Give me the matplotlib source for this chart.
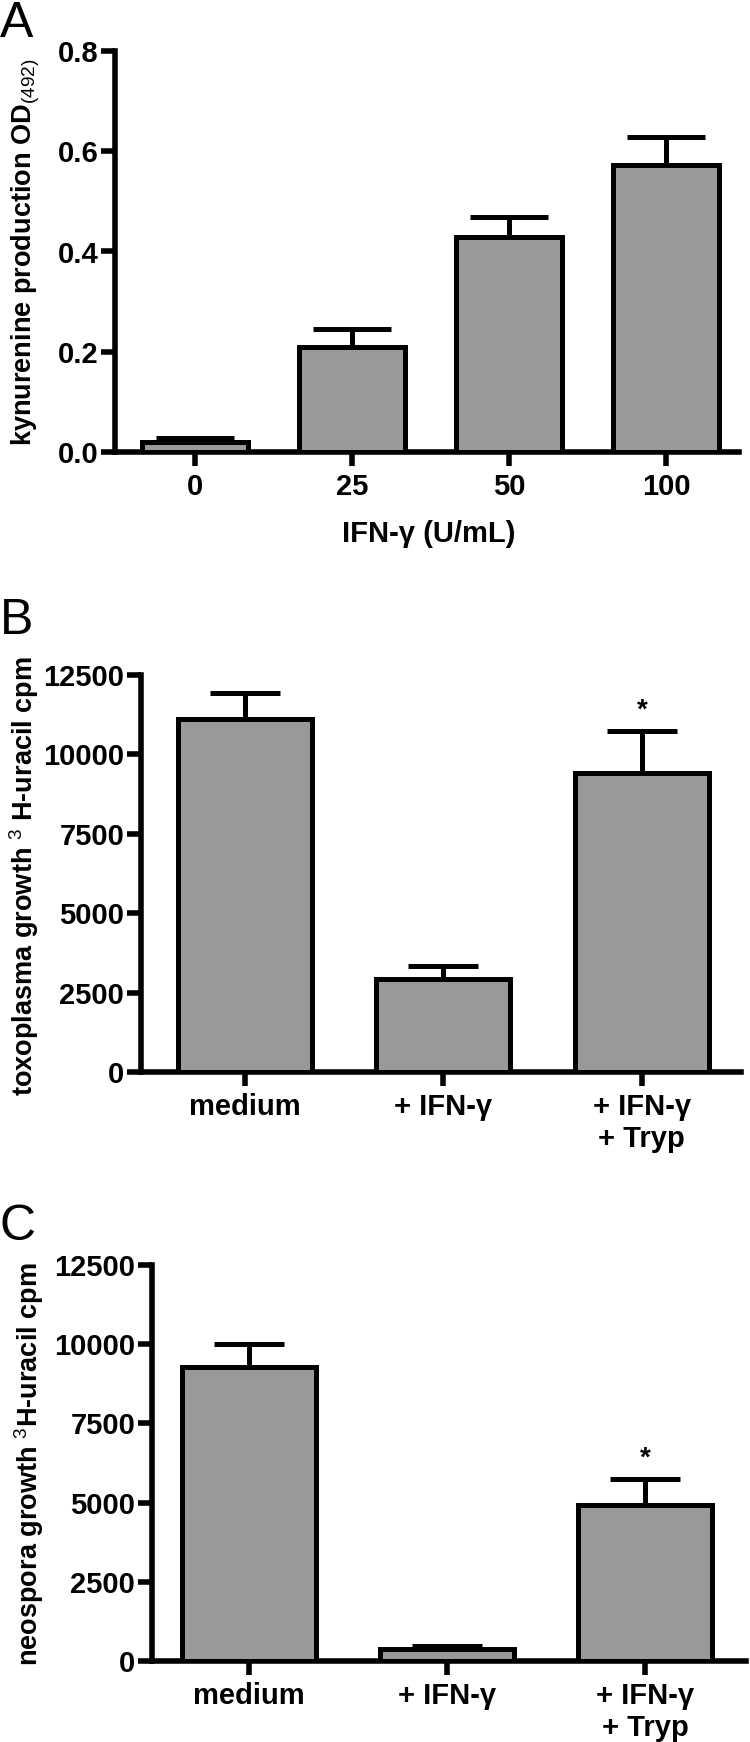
import numpy as np
import matplotlib
matplotlib.use("Agg")
import matplotlib.pyplot as plt

plt.rcParams["font.family"] = ["Liberation Sans", "DejaVu Sans"]
plt.rcParams["mathtext.fontset"] = "custom"
plt.rcParams["mathtext.rm"] = "Liberation Sans"
plt.rcParams["mathtext.it"] = "Liberation Sans"
plt.rcParams["mathtext.bf"] = "Liberation Sans:bold"

# Panel A: kynurenine production
dose_labels = ["0", "25", "50", "100"]
kyn_mean = [0.020, 0.210, 0.429, 0.573]
kyn_sem = [0.008, 0.035, 0.040, 0.055]

# Panel B / C: parasite growth
group_labels = ["medium", "+ IFN-\u03b3", "+ IFN-\u03b3\n+ Tryp"]
toxo_mean = [11115, 2926, 9405]
toxo_sem = [807, 422, 1325]
neo_mean = [9278, 370, 4920]
neo_sem = [738, 110, 820]
star_groups = [2]

W, H = 750, 1742
fig = plt.figure(figsize=(W / 100, H / 100), dpi=100)

BAR = "#999999"
LW = 3.6
FS = 21
FS_LAB = 19.5


def add_ax(left, top, right, bottom):
    return fig.add_axes([left / W, 1 - bottom / H, (right - left) / W, (bottom - top) / H])


def style(ax):
    for s in ["top", "right"]:
        ax.spines[s].set_visible(False)
    for s in ["left", "bottom"]:
        ax.spines[s].set_linewidth(4)
    ax.tick_params(axis="y", length=10, width=4, pad=2, labelsize=FS)
    ax.tick_params(axis="x", length=10, width=4, pad=5, labelsize=FS)
    for lab in ax.get_xticklabels() + ax.get_yticklabels():
        lab.set_fontweight("bold")


def bars(ax, labels, mean, sem, width, capsize):
    x = np.arange(len(mean))
    ax.bar(x, mean, width, color=BAR, edgecolor="black", linewidth=LW, zorder=3)
    ax.errorbar(x, mean, yerr=[np.zeros(len(sem)), sem], fmt="none", ecolor="black",
                elinewidth=LW, capsize=capsize, capthick=LW, zorder=2)
    ax.set_xticks(x)
    ax.set_xticklabels(labels, linespacing=1.2)
    return x


# ---- A ----
axA = add_ax(115, 51, 739, 452)
bars(axA, dose_labels, kyn_mean, kyn_sem, 0.67, 28)
axA.set_xlim(-0.51, 3.465)
axA.set_ylim(0, 0.8)
axA.set_yticks([0.0, 0.2, 0.4, 0.6, 0.8])
axA.set_yticklabels(["0.0", "0.2", "0.4", "0.6", "0.8"])
style(axA)
fig.text(429 / W, 1 - 534 / H, "IFN-\u03b3 (U/mL)", ha="center", va="center",
         fontsize=FS, fontweight="bold")
fig.text(26 / W, 1 - 252 / H, r"kynurenine production OD$_{(492)}$", rotation=90,
         ha="center", va="center", fontsize=FS_LAB, fontweight="bold")
fig.text(0, 1 - 1 / H, "A", ha="left", va="top", fontsize=36)

# ---- B ----
axB = add_ax(141, 675, 741, 1072)
xb = bars(axB, group_labels, toxo_mean, toxo_sem, 0.675, 25)
axB.set_xlim(-0.524, 2.5)
axB.set_ylim(0, 12500)
axB.set_yticks([0, 2500, 5000, 7500, 10000, 12500])
style(axB)
for g in star_groups:
    axB.text(xb[g], toxo_mean[g] + toxo_sem[g] + 650, "*", ha="center", va="center",
             fontsize=20, fontweight="bold")
fig.text(24 / W, 1 - 876 / H, r"toxoplasma growth $^{3}$ H-uracil cpm", rotation=90,
         ha="center", va="center", fontsize=FS_LAB, fontweight="bold")
fig.text(0, 1 - 598 / H, "B", ha="left", va="top", fontsize=36)

# ---- C ----
axC = add_ax(152, 1265, 746, 1661)
xc = bars(axC, group_labels, neo_mean, neo_sem, 0.68, 25)
axC.set_xlim(-0.49, 2.51)
axC.set_ylim(0, 12500)
axC.set_yticks([0, 2500, 5000, 7500, 10000, 12500])
style(axC)
for g in star_groups:
    axC.text(xc[g], neo_mean[g] + neo_sem[g] + 650, "*", ha="center", va="center",
             fontsize=20, fontweight="bold")
fig.text(29 / W, 1 - 1464 / H, r"neospora growth $^{3}$H-uracil cpm", rotation=90,
         ha="center", va="center", fontsize=FS_LAB, fontweight="bold")
fig.text(0, 1 - 1204 / H, "C", ha="left", va="top", fontsize=36)

fig.savefig("out.png", dpi=100)
